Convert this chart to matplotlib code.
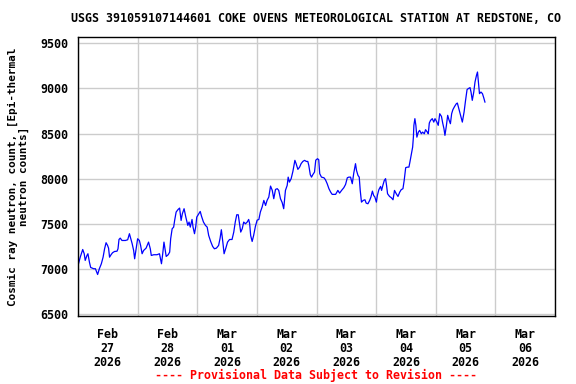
import datetime as dt
import numpy as np
import matplotlib
matplotlib.use("Agg")
import matplotlib.pyplot as plt
import matplotlib.dates as mdates

# hours after 2026-02-27 00:00 and neutron counts
hours = [0.2, 0.9, 1.9, 2.5, 2.9, 3.6, 4.0, 4.6, 5.1, 6.3, 7.0, 7.4, 7.9, 8.6, 9.4, 10.1,
         10.7, 11.3, 11.9, 12.3, 12.7, 13.3, 13.9, 14.7, 15.7, 16.1, 16.5, 17.0, 17.7, 19.1,
         20.0, 20.7, 21.2, 21.8, 22.4, 22.8, 23.4,
         24.0, 24.7, 25.2, 25.8, 26.4, 27.4, 28.4, 29.1, 29.5, 30.5, 31.8, 32.8, 33.2, 33.6,
         34.1, 34.6, 35.1, 35.5, 36.3, 36.9, 37.3, 37.9, 38.5, 38.9, 39.5, 40.3, 40.9, 41.5,
         42.0, 42.7, 43.4, 44.2, 44.7, 45.2, 45.9, 46.3, 46.9, 47.4,
         47.8, 48.6, 49.2, 49.7, 50.5, 51.3, 52.0, 52.6, 53.4, 54.2, 54.9, 55.7, 56.6, 57.2,
         57.7, 58.3, 58.8, 59.5, 60.2, 61.0, 62.0, 62.7, 63.3, 63.9, 64.5, 65.0, 65.5, 66.1,
         66.7, 67.4, 68.1, 68.7, 69.1, 69.5, 70.1, 70.7,
         71.4, 72.1, 72.8, 73.4, 74.1, 74.8, 75.5, 76.1, 76.8, 77.5, 78.2, 78.8, 79.5, 80.2,
         80.8, 81.5, 82.2, 82.8, 83.5, 84.2, 84.6, 85.1, 85.8, 86.5, 87.3, 87.8, 88.5, 89.2,
         89.8, 90.5, 91.2, 91.9, 92.5, 92.9, 93.5, 94.0, 94.5, 95.2,
         95.7, 96.4, 96.9, 97.3, 98.0, 99.0, 99.6, 100.3, 101.0, 101.7, 102.3, 103.7, 104.6,
         105.3, 106.1, 107.0, 107.7, 108.4, 109.0, 109.7, 110.4, 111.0, 111.7, 112.1, 112.7,
         113.2, 113.6, 114.1, 114.8, 115.5, 116.0, 116.7, 117.4, 117.9, 118.5, 119.0, 119.5,
         120.1, 120.5, 121.1, 121.8, 122.2, 122.7, 123.3, 123.8, 124.2, 124.6, 125.4, 126.1,
         126.8, 127.4, 128.1, 128.8, 129.5, 130.1, 130.8, 131.3, 131.9, 132.6, 133.2, 133.6,
         134.2, 134.7, 135.0, 135.2, 135.6, 136.0, 136.4, 137.0, 137.5, 138.2, 138.7, 139.4,
         139.9, 140.6, 141.0, 141.4, 141.9, 142.6, 143.2, 143.7,
         144.4, 145.0, 145.6, 146.3, 146.8, 147.3, 147.7, 148.3, 148.8, 149.3, 149.9, 150.4,
         150.9, 151.6, 152.3, 152.7, 153.3, 154.0, 154.7, 155.4, 156.0, 156.6, 157.1, 157.8,
         158.2, 158.7, 159.3, 159.8, 160.4, 160.8, 161.2, 161.6, 162.2, 162.8, 163.3, 163.8]

counts = [7057, 7130, 7215, 7168, 7094, 7149, 7168, 7075, 7016, 7002, 7002, 6972, 6938, 7002, 7057, 7130,
          7223, 7290, 7260, 7230, 7130, 7157, 7179, 7193, 7196, 7223, 7326, 7341, 7315, 7315,
          7323, 7390, 7341, 7279, 7204, 7112, 7223,
          7334, 7315, 7260, 7168, 7204, 7230, 7297, 7223, 7149, 7157, 7157, 7168, 7112, 7057,
          7168, 7297, 7204, 7138, 7157, 7186, 7334, 7445, 7463, 7537, 7630, 7659, 7674, 7537,
          7611, 7667, 7574, 7482, 7519, 7463, 7548, 7463, 7390, 7470,
          7574, 7611, 7637, 7585, 7519, 7482, 7463, 7371, 7304, 7249, 7223, 7230, 7260, 7341,
          7434, 7297, 7168, 7230, 7297, 7326, 7326, 7408, 7519, 7600, 7600, 7500, 7408, 7445,
          7519, 7500, 7519, 7548, 7500, 7371, 7304, 7371,
          7470, 7540, 7548, 7630, 7685, 7759, 7703, 7759, 7796, 7918, 7870, 7778, 7881, 7889,
          7870, 7778, 7734, 7667, 7870, 7925, 8017, 7962, 8000, 8081, 8203, 8166, 8103, 8128,
          8166, 8191, 8203, 8191, 8191, 8147, 8044, 8017, 8044, 8073,
          8205, 8221, 8210, 8055, 8017, 8010, 7988, 7944, 7889, 7851, 7826, 7826, 7870,
          7840, 7870, 7900, 7936, 8010, 8017, 8017, 7944, 8062, 8166, 8092, 8036,
          8017, 7870, 7740, 7759, 7766, 7729, 7722, 7759, 7796, 7862, 7814, 7796,
          7740, 7814, 7878, 7914, 7870, 7925, 7981, 8000, 7925, 7833, 7803, 7789,
          7766, 7870, 7833, 7803, 7851, 7878, 7889, 7981, 8122, 8128, 8128, 8184,
          8277, 8350, 8460, 8591, 8665, 8591, 8460, 8516, 8535, 8498, 8516, 8498,
          8543, 8516, 8498, 8616, 8646, 8665, 8627, 8665,
          8630, 8591, 8720, 8690, 8616, 8554, 8480, 8591, 8702, 8654, 8609, 8720,
          8765, 8801, 8831, 8838, 8776, 8702, 8627, 8738, 8868, 8987, 8998, 9009,
          8960, 8868, 8960, 9071, 9145, 9182, 9060, 8942, 8960, 8942, 8898, 8849]

title = "USGS 391059107144601 COKE OVENS METEOROLOGICAL STATION AT REDSTONE, CO"
ylabel = "Cosmic ray neutron, count, [Epi-thermal\nneutron counts]"
footer = "---- Provisional Data Subject to Revision ----"
yticks = [6500, 7000, 7500, 8000, 8500, 9000, 9500]

start = dt.datetime(2026, 2, 27)
end = dt.datetime(2026, 3, 7)
times = [start + dt.timedelta(hours=h) for h in hours]

FONT = "DejaVu Sans Mono"
FS = 8.35

fig = plt.figure(figsize=(5.76, 3.84), dpi=100)
ax = fig.add_axes([78/576, 1-316/384, (555-78)/576, (316-37)/384])

ax.plot(times, counts, color="#0000ff", linewidth=0.9)

ax.set_xlim(start, end)
ax.set_ylim(6478, 9570)
ax.set_yticks(yticks)
ax.set_yticklabels([str(v) for v in yticks], fontfamily=FONT, fontweight="bold", fontsize=FS)

ax.xaxis.set_major_locator(mdates.DayLocator())
ax.xaxis.set_major_formatter(plt.NullFormatter())
ax.xaxis.set_minor_locator(mdates.HourLocator(byhour=[12]))
ax.xaxis.set_minor_formatter(mdates.DateFormatter("%b\n%d\n%Y"))
ax.tick_params(axis="x", which="both", length=0, pad=9)
ax.tick_params(axis="y", length=0, pad=7)
for lab in ax.get_xticklabels(minor=True):
    lab.set_fontfamily(FONT)
    lab.set_fontweight("bold")
    lab.set_fontsize(FS)
    lab.set_linespacing(1.1)

ax.grid(True, which="major", color="#cccccc", linewidth=1.0)
ax.set_axisbelow(True)
for sp in ax.spines.values():
    sp.set_color("black")
    sp.set_linewidth(1.0)

fig.text(316/576, 1-19/384, title, ha="center", va="center",
         fontfamily=FONT, fontweight="bold", fontsize=FS)
fig.text(18.5/576, 1-176.5/384, ylabel, ha="center", va="center", rotation=90,
         fontfamily=FONT, fontweight="bold", fontsize=7.95, linespacing=1.15)
fig.text(316/576, 1-375/384, footer, ha="center", va="center", color="#ff0000",
         fontfamily=FONT, fontweight="bold", fontsize=FS)

fig.savefig("out.png", dpi=100)
